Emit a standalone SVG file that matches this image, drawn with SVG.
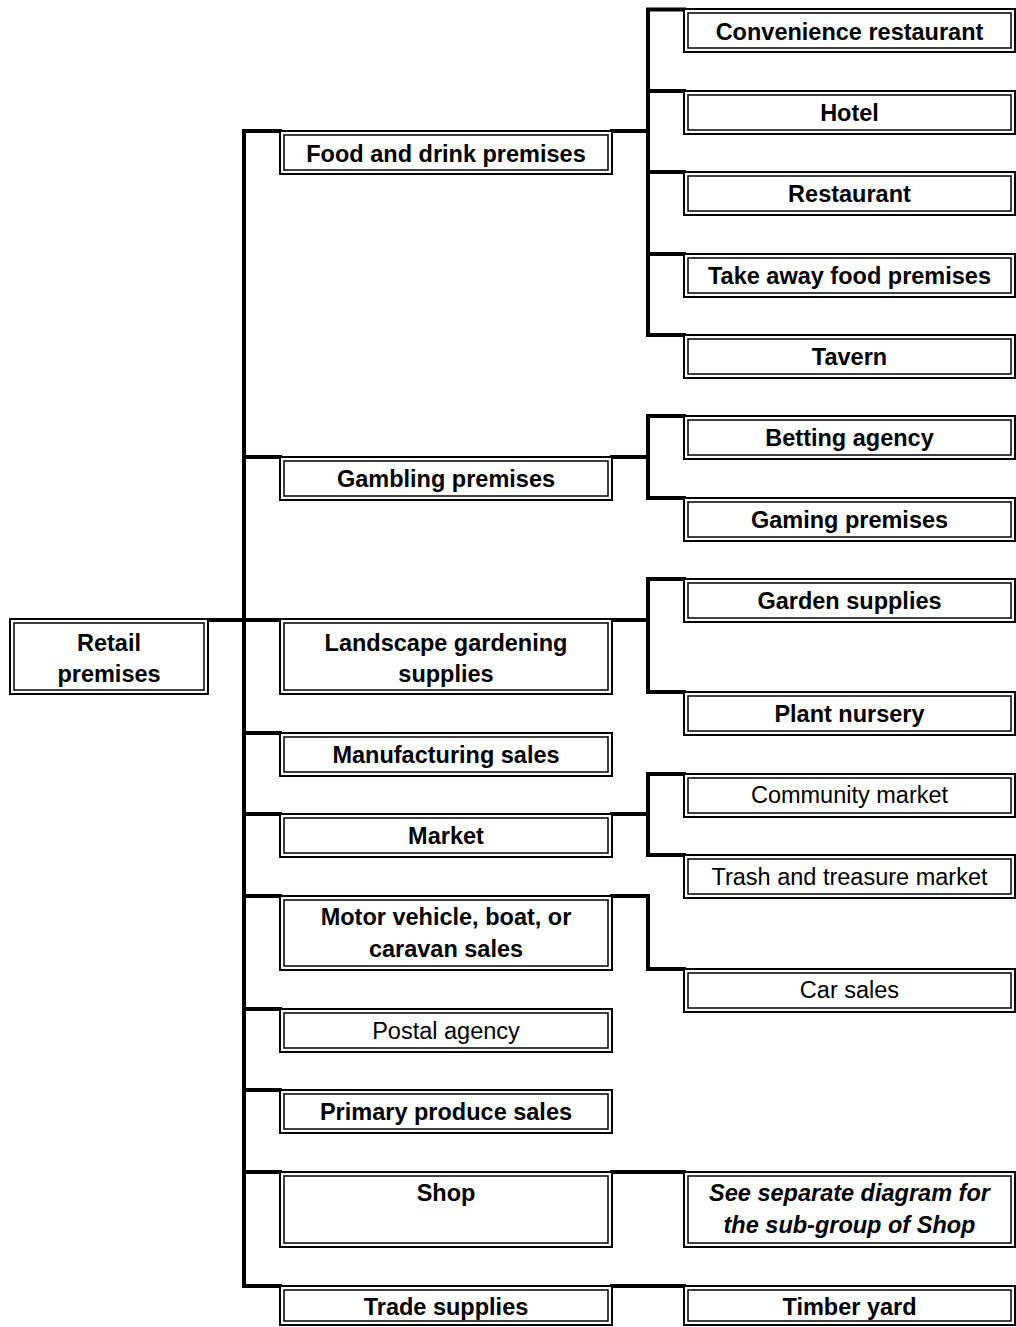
<svg xmlns="http://www.w3.org/2000/svg" width="1016" height="1327" viewBox="0 0 1016 1327">
<style>
.o{fill:#fff;stroke:#000;stroke-width:2}
.i{fill:none;stroke:#000;stroke-width:1.5}
.t{font-family:"Liberation Sans",Arial,sans-serif;font-size:23.5px;font-weight:bold;text-anchor:middle;fill:#000}
.n{font-weight:normal}
.it{font-style:italic}
.c{fill:none;stroke:#000;stroke-width:4;stroke-linejoin:miter;stroke-linecap:square}
</style>
<rect width="1016" height="1327" fill="#fff"/>
<g id="connectors" class="c">
<path d="M280,131 H244 V1286 H280"/>
<path d="M208,620 H280"/>
<path d="M244,457 H280"/>
<path d="M244,733 H280"/>
<path d="M244,814 H280"/>
<path d="M244,896 H280"/>
<path d="M244,1009 H280"/>
<path d="M244,1090 H280"/>
<path d="M244,1172 H280"/>
<path d="M612,131 H648"/>
<path d="M684,9.5 H648 V335 H684"/>
<path d="M648,91 H684"/>
<path d="M648,172 H684"/>
<path d="M648,254 H684"/>
<path d="M612,457 H648"/>
<path d="M684,416 H648 V498 H684"/>
<path d="M612,620 H648"/>
<path d="M684,579 H648 V692 H684"/>
<path d="M612,814 H648"/>
<path d="M684,774 H648 V855 H684"/>
<path d="M612,896 H648 V969 H684"/>
<path d="M612,1172 H684"/>
<path d="M612,1286 H684"/>
</g>
<g id="retail"><rect class="o" x="10" y="619" width="198" height="75"/><rect class="i" x="14" y="623" width="190" height="67"/><text class="t" x="109" y="651">Retail</text><text class="t" x="109" y="682">premises</text></g>
<g id="food"><rect class="o" x="280" y="131" width="332" height="43"/><rect class="i" x="284" y="135" width="324" height="35"/><text class="t" x="446" y="162">Food and drink premises</text></g>
<g id="gambling"><rect class="o" x="280" y="457" width="332" height="43"/><rect class="i" x="284" y="461" width="324" height="35"/><text class="t" x="446" y="487">Gambling premises</text></g>
<g id="landscape"><rect class="o" x="280" y="619" width="332" height="75"/><rect class="i" x="284" y="623" width="324" height="67"/><text class="t" x="446" y="651">Landscape gardening</text><text class="t" x="446" y="682">supplies</text></g>
<g id="manufacturing"><rect class="o" x="280" y="733" width="332" height="43"/><rect class="i" x="284" y="737" width="324" height="35"/><text class="t" x="446" y="763">Manufacturing sales</text></g>
<g id="market"><rect class="o" x="280" y="814" width="332" height="43"/><rect class="i" x="284" y="818" width="324" height="35"/><text class="t" x="446" y="844">Market</text></g>
<g id="motor"><rect class="o" x="280" y="896" width="332" height="74"/><rect class="i" x="284" y="900" width="324" height="66"/><text class="t" x="446" y="925">Motor vehicle, boat, or</text><text class="t" x="446" y="957">caravan sales</text></g>
<g id="postal"><rect class="o" x="280" y="1009" width="332" height="43"/><rect class="i" x="284" y="1013" width="324" height="35"/><text class="t n" x="446" y="1039">Postal agency</text></g>
<g id="primary"><rect class="o" x="280" y="1090" width="332" height="43"/><rect class="i" x="284" y="1094" width="324" height="35"/><text class="t" x="446" y="1120">Primary produce sales</text></g>
<g id="shop"><rect class="o" x="280" y="1172" width="332" height="75"/><rect class="i" x="284" y="1176" width="324" height="67"/><text class="t" x="446" y="1201">Shop</text></g>
<g id="trade"><rect class="o" x="280" y="1286" width="332" height="39"/><rect class="i" x="284" y="1290" width="324" height="31"/><text class="t" x="446" y="1315">Trade supplies</text></g>
<g id="convenience"><rect class="o" x="684" y="9" width="331" height="43"/><rect class="i" x="688" y="13" width="323" height="35"/><text class="t" x="849.5" y="40">Convenience restaurant</text></g>
<g id="hotel"><rect class="o" x="684" y="91" width="331" height="43"/><rect class="i" x="688" y="95" width="323" height="35"/><text class="t" x="849.5" y="121">Hotel</text></g>
<g id="restaurant"><rect class="o" x="684" y="172" width="331" height="43"/><rect class="i" x="688" y="176" width="323" height="35"/><text class="t" x="849.5" y="202">Restaurant</text></g>
<g id="takeaway"><rect class="o" x="684" y="254" width="331" height="43"/><rect class="i" x="688" y="258" width="323" height="35"/><text class="t" x="849.5" y="284">Take away food premises</text></g>
<g id="tavern"><rect class="o" x="684" y="335" width="331" height="43"/><rect class="i" x="688" y="339" width="323" height="35"/><text class="t" x="849.5" y="365">Tavern</text></g>
<g id="betting"><rect class="o" x="684" y="416" width="331" height="43"/><rect class="i" x="688" y="420" width="323" height="35"/><text class="t" x="849.5" y="446">Betting agency</text></g>
<g id="gaming"><rect class="o" x="684" y="498" width="331" height="43"/><rect class="i" x="688" y="502" width="323" height="35"/><text class="t" x="849.5" y="528">Gaming premises</text></g>
<g id="garden"><rect class="o" x="684" y="579" width="331" height="43"/><rect class="i" x="688" y="583" width="323" height="35"/><text class="t" x="849.5" y="609">Garden supplies</text></g>
<g id="nursery"><rect class="o" x="684" y="692" width="331" height="43"/><rect class="i" x="688" y="696" width="323" height="35"/><text class="t" x="849.5" y="722">Plant nursery</text></g>
<g id="community"><rect class="o" x="684" y="774" width="331" height="43"/><rect class="i" x="688" y="778" width="323" height="35"/><text class="t n" x="849.5" y="803">Community market</text></g>
<g id="trash"><rect class="o" x="684" y="855" width="331" height="43"/><rect class="i" x="688" y="859" width="323" height="35"/><text class="t n" x="849.5" y="885">Trash and treasure market</text></g>
<g id="carsales"><rect class="o" x="684" y="969" width="331" height="43"/><rect class="i" x="688" y="973" width="323" height="35"/><text class="t n" x="849.5" y="998">Car sales</text></g>
<g id="seeseparate"><rect class="o" x="684" y="1172" width="331" height="75"/><rect class="i" x="688" y="1176" width="323" height="67"/><text class="t it" x="849.5" y="1201">See separate diagram for</text><text class="t it" x="849.5" y="1233">the sub-group of Shop</text></g>
<g id="timber"><rect class="o" x="684" y="1286" width="331" height="39"/><rect class="i" x="688" y="1290" width="323" height="31"/><text class="t" x="849.5" y="1315">Timber yard</text></g>
</svg>
